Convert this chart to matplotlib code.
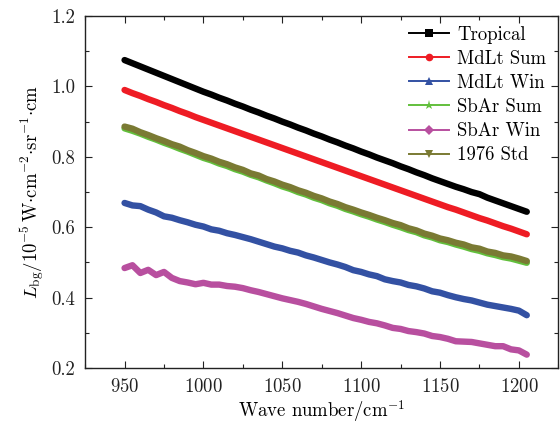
import numpy as np
import matplotlib
matplotlib.use("Agg")
import matplotlib.pyplot as plt
from matplotlib.lines import Line2D
from matplotlib.ticker import MultipleLocator, FormatStrFormatter

plt.rcParams["font.family"] = ["serif"]
plt.rcParams["font.serif"] = ["cmr10", "DejaVu Serif"]
plt.rcParams["mathtext.fontset"] = "cm"
plt.rcParams["axes.formatter.use_mathtext"] = True

# Wave numbers (cm^-1)
wavenumber = np.arange(950, 1206, 5)

tropical = [1.075, 1.066, 1.057, 1.048, 1.039, 1.030, 1.021, 1.012, 1.003, 0.994, 0.985,
            0.977, 0.968, 0.960, 0.951, 0.943, 0.934, 0.926, 0.917, 0.909, 0.900,
            0.892, 0.883, 0.875, 0.866, 0.858, 0.849, 0.841, 0.832, 0.824, 0.815,
            0.807, 0.798, 0.790, 0.782, 0.773, 0.765, 0.756, 0.748, 0.739, 0.731,
            0.723, 0.715, 0.708, 0.700, 0.694, 0.684, 0.676, 0.668, 0.660, 0.652, 0.644]

mdlt_sum = [0.990, 0.981, 0.973, 0.964, 0.956, 0.947, 0.939, 0.930, 0.922, 0.913, 0.905,
            0.897, 0.889, 0.881, 0.873, 0.865, 0.857, 0.849, 0.841, 0.833, 0.825,
            0.817, 0.809, 0.801, 0.793, 0.785, 0.777, 0.769, 0.761, 0.753, 0.745,
            0.737, 0.729, 0.721, 0.713, 0.705, 0.697, 0.689, 0.681, 0.673, 0.665,
            0.657, 0.650, 0.642, 0.634, 0.626, 0.619, 0.611, 0.603, 0.596, 0.588, 0.580]

mdlt_win = [0.669, 0.662, 0.660, 0.650, 0.642, 0.631, 0.627, 0.620, 0.614, 0.607, 0.602,
            0.594, 0.590, 0.583, 0.578, 0.572, 0.566, 0.559, 0.552, 0.545, 0.540,
            0.533, 0.528, 0.520, 0.514, 0.507, 0.500, 0.494, 0.487, 0.478, 0.473,
            0.466, 0.461, 0.452, 0.447, 0.443, 0.436, 0.432, 0.426, 0.418, 0.414,
            0.407, 0.401, 0.396, 0.392, 0.386, 0.380, 0.376, 0.372, 0.368, 0.363, 0.350]

sbar_sum = [0.881, 0.874, 0.866, 0.857, 0.849, 0.840, 0.832, 0.823, 0.815, 0.806, 0.797,
            0.790, 0.781, 0.774, 0.765, 0.758, 0.749, 0.742, 0.733, 0.725, 0.716,
            0.709, 0.700, 0.693, 0.684, 0.677, 0.668, 0.661, 0.652, 0.645, 0.637,
            0.630, 0.622, 0.615, 0.607, 0.600, 0.592, 0.586, 0.577, 0.571, 0.563,
            0.558, 0.551, 0.545, 0.538, 0.533, 0.526, 0.521, 0.515, 0.511, 0.505, 0.499]

sbar_win = [0.484, 0.492, 0.470, 0.479, 0.464, 0.473, 0.456, 0.447, 0.443, 0.438, 0.442,
            0.437, 0.437, 0.433, 0.431, 0.427, 0.421, 0.416, 0.410, 0.404, 0.398,
            0.393, 0.388, 0.382, 0.375, 0.368, 0.362, 0.356, 0.349, 0.342, 0.337,
            0.331, 0.327, 0.321, 0.314, 0.311, 0.305, 0.302, 0.298, 0.291, 0.288,
            0.283, 0.276, 0.275, 0.274, 0.270, 0.266, 0.262, 0.262, 0.253, 0.250, 0.238]

std_1976 = [0.886, 0.880, 0.870, 0.862, 0.853, 0.845, 0.836, 0.829, 0.819, 0.811, 0.802,
            0.795, 0.786, 0.779, 0.770, 0.763, 0.753, 0.747, 0.737, 0.730, 0.721,
            0.714, 0.705, 0.698, 0.689, 0.682, 0.673, 0.666, 0.657, 0.650, 0.642,
            0.635, 0.627, 0.620, 0.612, 0.606, 0.597, 0.591, 0.582, 0.576, 0.568,
            0.563, 0.556, 0.551, 0.543, 0.539, 0.531, 0.527, 0.520, 0.517, 0.511, 0.504]

series = [
    ("Tropical", tropical, "#000000", "s"),
    ("MdLt Sum", mdlt_sum, "#ee1c24", "o"),
    ("MdLt Win", mdlt_win, "#3351a3", "^"),
    ("SbAr Sum", sbar_sum, "#62bf3c", "*"),
    ("SbAr Win", sbar_win, "#b84f9f", "D"),
    ("1976 Std", std_1976, "#7a7a33", "v"),
]

fig = plt.figure(figsize=(5.6, 4.23), dpi=100)
ax = fig.add_axes([0.152, 0.130, 0.845, 0.832])

handles = []
for label, vals, color, marker in series:
    ax.plot(wavenumber, vals, color=color, lw=4.6, solid_capstyle="round",
            solid_joinstyle="round")
    handles.append(Line2D([], [], color=color, lw=1.4, marker=marker,
                          markersize=6.5 if marker == "*" else 5.5,
                          markeredgewidth=0, label=label))

ax.set_xlim(925, 1225)
ax.set_ylim(0.2, 1.2)
ax.xaxis.set_major_locator(MultipleLocator(50))
ax.xaxis.set_minor_locator(MultipleLocator(25))
ax.yaxis.set_major_locator(MultipleLocator(0.2))
ax.yaxis.set_minor_locator(MultipleLocator(0.1))
ax.yaxis.set_major_formatter(FormatStrFormatter("%.1f"))
ax.tick_params(which="both", direction="in", top=True, right=True,
               labelsize=13.5, width=0.8, colors="#222222")
ax.tick_params(which="major", length=5, pad=7)
ax.tick_params(which="minor", length=3)
for s in ax.spines.values():
    s.set_linewidth(1.0)
    s.set_color("#222222")

ax.set_xlabel(r"Wave number/cm$^{-1}$", fontsize=13.5, labelpad=2)
ax.set_ylabel(r"$L_{\mathrm{bg}}/10^{-5}\,\mathrm{W{\cdot}cm^{-2}{\cdot}sr^{-1}{\cdot}cm}$",
              fontsize=13.5, labelpad=4)

ax.legend(handles=handles, loc="upper right", frameon=False, fontsize=13.5,
          handlelength=2.1, handletextpad=0.45, labelspacing=0.33,
          borderaxespad=0.0, bbox_to_anchor=(0.99, 0.994))

fig.savefig("out.png", dpi=100)
